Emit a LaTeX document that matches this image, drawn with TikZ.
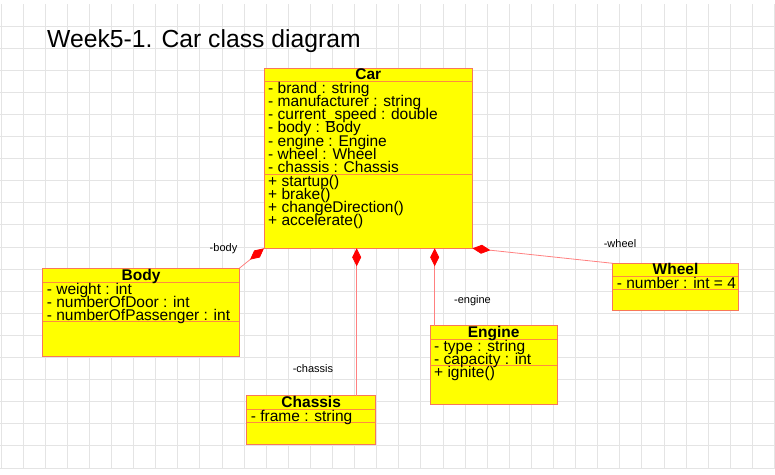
\documentclass[tikz,border=0pt]{standalone}
\usepackage{fontspec}
\setmainfont{Liberation Sans}
\usetikzlibrary{arrows.meta}
\definecolor{boxfill}{HTML}{FFFF00}
\definecolor{boxedge}{HTML}{F87858}
\definecolor{divline}{HTML}{FF8C40}
\definecolor{linkred}{HTML}{FF8080}
\definecolor{gridgray}{HTML}{E4E4E4}
\tikzset{
  classrect/.style={draw=boxedge, fill=boxfill, line width=1pt, inner sep=0pt, outer sep=0pt, rectangle},
  divider/.style={draw=divline, line width=1pt},
  member/.style={anchor=base west, inner sep=0pt, font=\fontsize{15.5}{13.2}\selectfont},
  ctitle/.style={anchor=base, inner sep=0pt, font=\bfseries\fontsize{15.5}{13.2}\selectfont},
  rolelabel/.style={inner sep=0pt, font=\fontsize{11}{13}\selectfont},
  comp/.style={draw=linkred, line width=0.8pt, {Diamond[length=18pt,width=9pt,fill=red,color=red]}-},
  gridline/.style={draw=gridgray, line width=1pt},
  titletext/.style={anchor=base west, inner sep=0pt, font=\fontsize{24.7}{30}\selectfont},
}
% #1 name, #2 x1, #3 y1, #4 x2, #5 y2, #6 first divider y, #7 second divider y, #8 title
\newcommand{\classbox}[8]{%
  \node[classrect, minimum width={(#4-#2)*1pt}, minimum height={(#5-#3)*1pt}] (#1) at ({(#2+#4)/2},{(#3+#5)/2}) {};
  \draw[divider] (#1.west |- 0,#6) -- (#1.east |- 0,#6);
  \draw[divider] (#1.west |- 0,#7) -- (#1.east |- 0,#7);
  \node[ctitle] (#1-title) at ({(#2+#4)/2},{#6-2}) {#8};
}
\begin{document}
\begin{tikzpicture}[x=1pt,y=-1pt]
\useasboundingbox (0,0) rectangle (775,474);
% grid
\foreach \k in {0,...,35} \draw[gridline] ({1+22.1*\k},4) -- ({1+22.1*\k},468);
\foreach \k in {0,...,20} \draw[gridline] (0,{26+22.1*\k}) -- (775,{26+22.1*\k});
% title
\node[titletext] (title) at (47,47) {Week5-1. Car class diagram};
% Car
\classbox{car}{264}{68.7}{472.5}{248.3}{81.3}{174.3}{Car}
\foreach \t [count=\i] in {- brand : string, - manufacturer : string, - current\_speed : double, - body : Body, - engine : Engine, - wheel : Wheel, - chassis : Chassis}
  \node[member] (car-a\i) at (268,{93.3+(\i-1)*13.2}) {\t};
\foreach \t [count=\i] in {+ startup(), + brake(), + changeDirection(), + accelerate()}
  \node[member] (car-m\i) at (268,{186.3+(\i-1)*13.2}) {\t};
% Body
\classbox{body}{42.7}{268.3}{239.3}{356}{282}{321}{Body}
\foreach \t [count=\i] in {- weight : int, - numberOfDoor : int, - numberOfPassenger : int}
  \node[member] (body-a\i) at (46.7,{294+(\i-1)*13.2}) {\t};
% Wheel
\classbox{wheel}{612.7}{263.3}{738.3}{310.3}{276}{289.3}{Wheel}
\node[member] (wheel-a1) at (616.7,288) {- number : int = 4};
% Engine
\classbox{engine}{430}{325.7}{557.3}{404.3}{339.3}{365.7}{Engine}
\foreach \t [count=\i] in {- type : string, - capacity : int}
  \node[member] (engine-a\i) at (434,{351.3+(\i-1)*13.2}) {\t};
\node[member] (engine-m1) at (434,377.7) {+ ignite()};
% Chassis
\classbox{chassis}{246.7}{395.7}{375.7}{444.3}{409.3}{422.3}{Chassis}
\node[member] (chassis-a1) at (250.7,421.3) {- frame : string};
% connectors
\coordinate (chx) at (356.7,0);
\coordinate (enx) at (434.7,0);
\draw[comp] (car.south west) -- (body.north east);
\draw[comp] (car.south -| chx) -- (chassis.north -| chx);
\draw[comp] (car.south -| enx) -- (engine.north -| enx);
\draw[comp] (car.south east) -- (wheel.north west);
% role labels
\node[rolelabel] (lbody) at (223.5,249) {-body};
\node[rolelabel] (lwheel) at (620,244) {-wheel};
\node[rolelabel] (lengine) at (472.5,300.7) {-engine};
\node[rolelabel] (lchassis) at (313,368.3) {-chassis};
\end{tikzpicture}
\end{document}
